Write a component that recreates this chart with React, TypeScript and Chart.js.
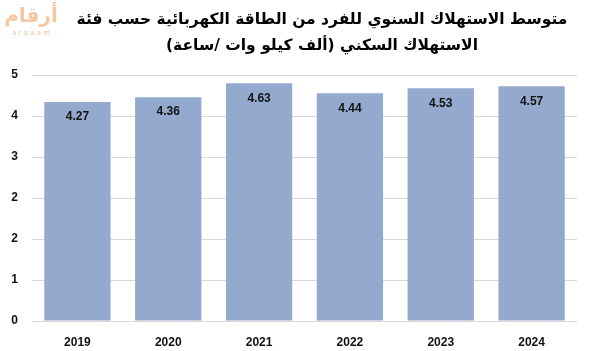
import React, { useEffect, useRef } from "react";
import { Chart, registerables } from "chart.js";

Chart.register(...registerables);

const categories = ["2019", "2020", "2021", "2022", "2023", "2024"];
// bar heights as drawn in the picture
const barHeights = [4.45, 4.55, 4.83, 4.63, 4.73, 4.77];
// value labels printed inside the bars
const valueLabels = ["4.27", "4.36", "4.63", "4.44", "4.53", "4.57"];
// y tick labels (rounded from 0, 5/6, 10/6, ... 5)
const yTickLabels = ["0", "1", "2", "2", "3", "4", "5"];
const titleLines = [
  "متوسط الاستهلاك السنوي للفرد من الطاقة الكهربائية حسب فئة",
  "الاستهلاك السكني (ألف كيلو وات /ساعة)",
];

const overlayPlugin = {
  id: "overlay",
  afterDatasetsDraw(chart: any) {
    const ctx = chart.ctx;
    const meta = chart.getDatasetMeta(0);
    ctx.save();
    ctx.font = "bold 12px 'Liberation Sans', Arial, sans-serif";
    ctx.fillStyle = "#111111";
    ctx.textAlign = "center";
    ctx.textBaseline = "middle";
    meta.data.forEach((bar: any, i: number) => {
      ctx.fillText(valueLabels[i], bar.x, bar.y + 15);
    });
    ctx.restore();
  },
  afterDraw(chart: any) {
    const ctx = chart.ctx;
    ctx.save();
    // title
    ctx.fillStyle = "#000000";
    ctx.textAlign = "center";
    ctx.textBaseline = "middle";
    ctx.direction = "rtl";
    ctx.font = "bold 15.5px 'DejaVu Sans', sans-serif";
    ctx.fillText(titleLines[0], 322, 20);
    ctx.fillText(titleLines[1], 322, 46);
    // logo
    ctx.fillStyle = "#f5c6a2";
    ctx.font = "bold 20px 'DejaVu Sans', sans-serif";
    ctx.fillText("أرقام", 31, 17);
    ctx.direction = "ltr";
    ctx.font = "7px 'DejaVu Sans', sans-serif";
    ctx.fillStyle = "#e9c7ae";
    ctx.fillText("a r q a a m", 31, 33);
    ctx.restore();
  },
};

export default function App() {
  const ref = useRef<HTMLCanvasElement | null>(null);
  useEffect(() => {
    document.body.style.margin = "0";
    const chart = new Chart(ref.current as HTMLCanvasElement, {
      type: "bar",
      data: {
        labels: categories,
        datasets: [
          {
            data: barHeights,
            backgroundColor: "#94a9ce",
            categoryPercentage: 0.73,
            barPercentage: 1,
          },
        ],
      },
      options: {
        animation: false,
        responsive: false,
        maintainAspectRatio: false,
        layout: { padding: { top: 75, right: 13, left: 0, bottom: 0 } },
        plugins: {
          legend: { display: false },
          title: { display: false },
          tooltip: { enabled: false },
        },
        scales: {
          x: {
            grid: { display: false, drawTicks: false },
            border: { display: false },
            ticks: {
              color: "#111111",
              font: { family: "'Liberation Sans', Arial, sans-serif", weight: "bold", size: 12 },
              padding: 14,
            },
            afterFit(scale: any) {
              scale.height = 30;
            },
          },
          y: {
            min: 0,
            max: 5,
            grid: { color: "#d9d9d9", drawTicks: false, lineWidth: 1 },
            border: { display: false },
            ticks: {
              stepSize: 5 / 6,
              color: "#111111",
              font: { family: "'Liberation Sans', Arial, sans-serif", weight: "bold", size: 12 },
              padding: 14,
              callback: (_v: any, i: number) => yTickLabels[i],
            },
            afterFit(scale: any) {
              scale.width = 32;
            },
          },
        },
      },
      plugins: [overlayPlugin],
    });
    return () => chart.destroy();
  }, []);
  return (
    <div style={{ width: 590, height: 351 }}>
      <canvas ref={ref} width={590} height={351} style={{ display: "block" }} />
    </div>
  );
}
